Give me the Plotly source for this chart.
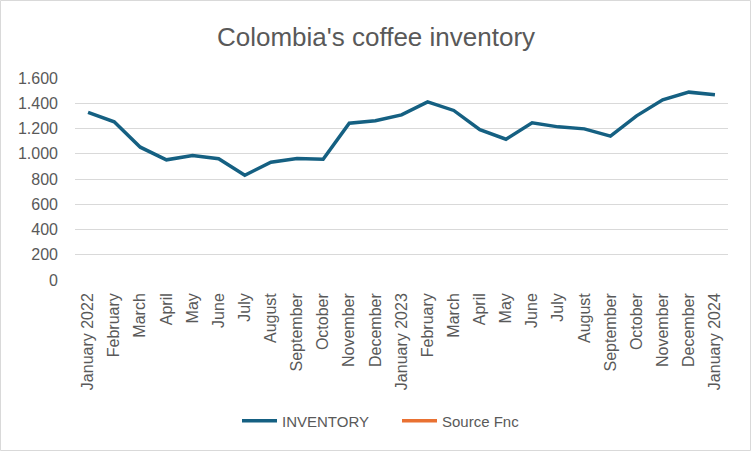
import plotly.graph_objects as go

# monthly inventory, Jan 2022 - Jan 2024 (thousand bags)
months = ["2022-01", "2022-02", "2022-03", "2022-04", "2022-05", "2022-06", "2022-07",
          "2022-08", "2022-09", "2022-10", "2022-11", "2022-12", "2023-01", "2023-02",
          "2023-03", "2023-04", "2023-05", "2023-06", "2023-07", "2023-08", "2023-09",
          "2023-10", "2023-11", "2023-12", "2024-01"]
month_labels = ["January 2022", "February", "March", "April", "May", "June", "July",
                "August", "September", "October", "November", "December", "January 2023",
                "February", "March", "April", "May", "June", "July", "August", "September",
                "October", "November", "December", "January 2024"]
inventory = [1327, 1253, 1052, 952, 986, 960, 830, 933, 962, 957, 1242, 1261, 1308,
             1411, 1343, 1190, 1115, 1245, 1213, 1197, 1139, 1300, 1427, 1488, 1467]
y_ticks = [0, 200, 400, 600, 800, 1000, 1200, 1400, 1600]

grey = "#595959"

fig = go.Figure()
fig.add_trace(go.Scatter(x=months, y=inventory, mode="lines", name="INVENTORY",
                         line=dict(color="#156082", width=3.5)))
# empty series, only shows up in the legend
fig.add_trace(go.Scatter(x=[None], y=[None], mode="lines", name="Source Fnc",
                         line=dict(color="#E97132", width=3.5)))

W, H = 752, 452
ml, mr, mt, mb = 75, 24, 78, 172
pw, ph = W - ml - mr, H - mt - mb

fig.update_layout(
    width=W, height=H,
    margin=dict(l=ml, r=mr, t=mt, b=mb, autoexpand=False),
    paper_bgcolor="white", plot_bgcolor="white",
    separators=",.",
    font=dict(family="Liberation Sans, Arial, sans-serif", size=16, color=grey),
    title=dict(text="Colombia's coffee inventory", x=0.5, xanchor="center",
               y=1 - 37 / H, yanchor="middle", font=dict(size=26, color=grey)),
    showlegend=True,
    legend=dict(orientation="h", x=(237 - ml) / pw, xanchor="left",
                y=-(421 - mt - ph) / ph, yanchor="middle",
                itemwidth=35, entrywidth=110, entrywidthmode="pixels",
                font=dict(size=15, color=grey)),
    xaxis=dict(type="category", tickmode="array", tickvals=months, ticktext=month_labels,
               range=[-0.5, len(months) - 0.5], tickangle=-90, showgrid=False,
               showline=False, ticks="", zeroline=False, ticklabelstandoff=9),
    yaxis=dict(range=[0, 1600], tickvals=y_ticks, tickformat=",d", showgrid=True,
               gridcolor="#d9d9d9", gridwidth=1, zeroline=False, showline=False,
               ticks="", ticklabelstandoff=16),
    shapes=[dict(type="rect", xref="paper", yref="paper",
                 x0=-(ml - 0.5) / pw, x1=1 + (mr - 1.5) / pw,
                 y0=-(mb - 1.5) / ph, y1=1 + (mt - 0.5) / ph,
                 line=dict(color="#d9d9d9", width=1), layer="below")],
)

# drop the default page margin so the figure sits at the window's corner
fig.write_html("out.html", config={"displayModeBar": False},
               post_script="document.body.style.margin='0';")
